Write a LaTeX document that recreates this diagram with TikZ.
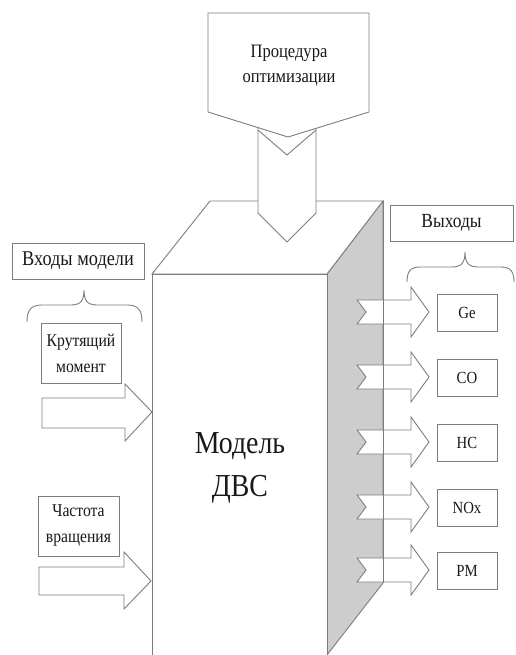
\documentclass[tikz,border=0pt]{standalone}
\usepackage{fontspec}
\usepackage{graphicx}
\setmainfont{Liberation Serif}
\newfontfamily\cond{Liberation Serif}
\newcommand\sq[1]{\scalebox{0.87}[1]{#1}}
\definecolor{lc}{RGB}{125,125,125}
\definecolor{sidegray}{RGB}{205,205,205}
\definecolor{tc}{RGB}{25,25,25}
\begin{document}
\begin{tikzpicture}[x=1pt,y=-1pt,line width=0.9pt,
  ln/.style={draw=lc,line join=miter},
  txt/.style={inner sep=0pt,align=center,text=tc},
  box/.style={txt,draw=lc,fill=white},
  outbox/.style={box,minimum width=60pt,minimum height=37pt,font=\cond\fontsize{17}{20}\selectfont},
  rarrow/.style={ln,fill=white}]
\useasboundingbox (0,0) rectangle (515,655);
% prism
\path[ln,fill=sidegray] (327,274) -- (383,201) -- (383,583) -- (327,655) -- cycle;
\path[ln,fill=white] (152,274) -- (210,201) -- (383,201) -- (327,274) -- cycle;
\path[ln,fill=white] (152,656) -- (152,274) -- (327,274) -- (327,656);
\node[txt,font=\cond\fontsize{32}{43}\selectfont] (model) at (240,468) {\sq{Модель}\\\sq{ДВС}};
% optimisation arrow
\path[ln,fill=white] (258,100) -- (258,213) -- (287,242) -- (316,213) -- (316,100);
\draw[ln] (258,130) -- (287,155) -- (316,130);
\path[ln,fill=white] (208,13) -- (369,13) -- (369,112) -- (288,137) -- (208,112) -- cycle;
\node[txt,font=\cond\fontsize{19}{25}\selectfont] (opt) at (289,66) {\sq{Процедура}\\\sq{оптимизации}};
% outputs
\foreach \cy/\lab/\nm in {312/Ge/ge,377/CO/co,442/HC/hc,507/NOx/nox,570/PM/pm}{
  \path[rarrow] (357,\cy-12) -- (411,\cy-12) -- (411,\cy-25) -- (429,\cy) -- (411,\cy+25)
     -- (411,\cy+12) -- (357,\cy+12) -- (366,\cy) -- cycle;
  \node[outbox] (\nm) at (467,\cy+1) {\sq{\lab}};
}
\draw[ln] (383,201) -- (383,583);
\node[box,minimum width=123pt,minimum height=36pt,font=\cond\fontsize{20}{24}\selectfont] (out) at (451.5,223) {\sq{Выходы}};
\draw[ln] (407,282) .. controls (407,272) and (410,267) .. (420,267) -- (452,267)
  .. controls (462,267) and (465,262) .. (465,252) .. controls (465,262) and (468,267) .. (478,267)
  -- (501,267) .. controls (511,267) and (514,272) .. (514,282);
% inputs
\node[box,minimum width=132pt,minimum height=36pt,font=\cond\fontsize{21}{24}\selectfont] (in) at (78,261) {\sq{Входы модели}};
\draw[ln] (27,322) .. controls (27,311) and (30,305) .. (42,305) -- (71,305)
  .. controls (81,305) and (84,300) .. (84,290) .. controls (84,300) and (87,305) .. (97,305)
  -- (127,305) .. controls (139,305) and (142,311) .. (142,322);
\node[box,minimum width=80pt,minimum height=60pt,font=\cond\fontsize{18}{26}\selectfont] (torque) at (81,353) {\sq{Крутящий}\\\sq{момент}};
\node[box,minimum width=81pt,minimum height=60pt,font=\cond\fontsize{18}{26}\selectfont] (speed) at (78.5,526) {\sq{Частота}\\\sq{вращения}};
\path[rarrow] (42,398) -- (125,398) -- (125,384) -- (152,412) -- (125,441) -- (125,428) -- (42,428) -- cycle;
\path[rarrow] (39,567) -- (124,567) -- (124,552) -- (151,581) -- (124,609) -- (124,595) -- (39,595) -- cycle;
\end{tikzpicture}
\end{document}
